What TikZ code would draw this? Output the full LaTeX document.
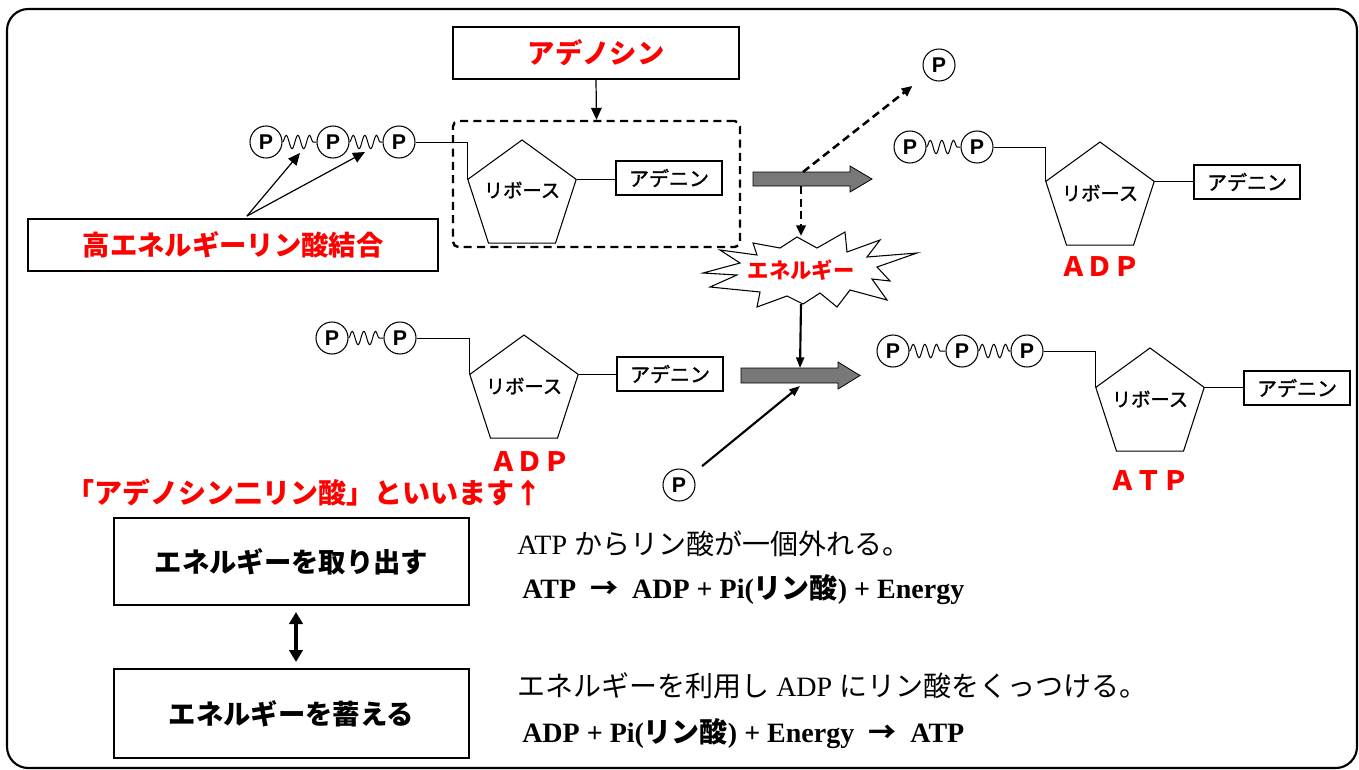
\documentclass[tikz,border=0pt]{standalone}
\usepackage{fontspec}
\setmainfont{Liberation Serif}
\newfontfamily\jp{Noto Sans CJK JP}
\newfontfamily\jpm{Noto Sans CJK JP}[FakeBold=1.5]
\newfontfamily\ar{Liberation Sans}
\usetikzlibrary{arrows.meta,shapes.geometric,decorations.pathmorphing,calc}
\definecolor{garrow}{RGB}{120,120,120}
\begin{document}
\begin{tikzpicture}[x=0.75pt,y=-0.75pt,
  pc/.style={draw, circle, line width=0.8pt, minimum size=24pt, inner sep=0pt, font=\ar\bfseries\fontsize{16}{16}\selectfont},
  rib/.style={draw, regular polygon, regular polygon sides=5, minimum size=85.5pt, inner sep=0pt, line width=0.8pt},
  ribtxt/.style={inner sep=0pt, font=\jpm\fontsize{14.5}{15}\selectfont},
  ade/.style={draw, line width=1pt, minimum width=79.5pt, minimum height=25.5pt, inner sep=0pt, font=\jpm\fontsize{15}{15}\selectfont},
  thinln/.style={line width=0.6pt},
  spring/.style={line width=0.75pt, decorate, decoration={snake, amplitude=5pt, segment length=8.75pt, pre length=0pt, post length=0pt}},
  bigbox/.style={draw, line width=1.5pt, inner sep=0pt, font=\jp\bfseries\fontsize{20.5}{21}\selectfont},
  redbox/.style={bigbox, text=red},
  redlab/.style={text=red, font=\jp\bfseries\fontsize{20}{20}\selectfont},
  thinarrow/.style={line width=0.9pt, -{Triangle[length=9pt,width=8pt]}},
  dasharrow/.style={line width=1.9pt, dash pattern=on 6pt off 3.5pt, -{Triangle[length=8pt,width=7pt]}},
  solidarrow/.style={line width=1.6pt, -{Triangle[length=8pt,width=6pt]}},
  blockarrow/.style={draw, line width=0.6pt, fill=garrow},
  eqn/.style={anchor=west, inner sep=0pt, font=\fontsize{21}{21}\selectfont},
  eqnb/.style={eqn, font=\bfseries\fontsize{21}{21}\selectfont},
]
\useasboundingbox (0,0) rectangle (1359,769);
% outer frame
\draw[line width=1.6pt, rounded corners=16pt] (7,9) rectangle (1357,768);

% adenosine label and dashed box
\node[redbox, minimum width=214.5pt, minimum height=39pt] (adeno) at (596,53) {アデノシン};
\node[draw, line width=1.8pt, dash pattern=on 6pt off 4pt, rounded corners=4pt, minimum width=215.25pt, minimum height=94.5pt, inner sep=0pt] (ados) at (596.5,184) {};
\draw[thinarrow] (adeno.south) -- (ados.north);

% top-left ATP
\node[pc] (a1) at (266,142) {P};
\node[pc] (a2) at (333,142) {P};
\node[pc] (a3) at (399,142) {P};
\draw[spring] (a1.east) -- (a2.west);
\draw[spring] (a2.east) -- (a3.west);
\node[rib] (r1) at (522,197) {};
\node[ribtxt] (r1t) at (522,190) {リボース};
\node[ade] (d1) at (669,178) {アデニン};
\draw[thinln] (a3.east) -| (r1.corner 2);
\draw[thinln] (r1.corner 5) -- (r1.corner 5 -| d1.west);

% high energy bond label
\node[redbox, minimum width=307.5pt, minimum height=39pt] (hebox) at (233,245) {高エネルギーリン酸結合};
\coordinate (hes) at (247,216);
\coordinate (sp1) at (300,153);
\coordinate (sp2) at (365,152);
\draw[thinarrow] (hes) -- (sp1);
\draw[thinarrow] (hes) -- (sp2);

% block arrow 1
\draw[blockarrow] (753,172) -- (850,172) -- (850,166) -- (872,179) -- (850,192) -- (850,186) -- (753,186) -- cycle;
\coordinate (g1top) at (803,172);
\coordinate (g1bot) at (801,186);

% free P
\node[pc] (pf) at (939,65) {P};
\draw[dasharrow, shorten >=13pt] (g1top) -- (pf);

% explosion
\draw[line width=0.8pt, fill=white] (797,237) -- (817,248) -- (845,232) -- (847,252) -- (880,240) -- (867,257) -- (917,253) -- (877,267) -- (890,281) -- (872,279) -- (887,300) -- (850,290) -- (837,307) -- (820,293) -- (803,304) -- (787,296) -- (757,307) -- (760,292) -- (710,287) -- (737,275) -- (703,273) -- (740,263) -- (720,250) -- (757,255) -- (753,243) -- (780,248) -- cycle;
\node[text=red, font=\jp\bfseries\fontsize{16}{16}\selectfont] (energy) at (801,270) {エネルギー};
\coordinate (extop) at (801,236);
\coordinate (exbot) at (801,304);
\draw[dasharrow] (g1bot) -- (extop);

% top-right ADP
\node[pc] (b1) at (910,147) {P};
\node[pc] (b2) at (977,147) {P};
\draw[spring] (b1.east) -- (b2.west);
\node[rib] (r3) at (1100,199) {};
\node[ribtxt] (r3t) at (1100,193) {リボース};
\node[ade] (d3) at (1247,182) {アデニン};
\draw[thinln] (b2.east) -| (r3.corner 2);
\draw[thinln] (r3.corner 5) -- (r3.corner 5 -| d3.west);
\node[redlab] (adp1) at (1100,267) {ＡＤＰ};

% bottom-left ADP
\node[pc] (c1) at (332,338) {P};
\node[pc] (c2) at (400,338) {P};
\draw[spring] (c1.east) -- (c2.west);
\node[rib] (r2) at (524,392) {};
\node[ribtxt] (r2t) at (524,386) {リボース};
\node[ade] (d2) at (670,374) {アデニン};
\draw[thinln] (c2.east) -| (r2.corner 2);
\draw[thinln] (r2.corner 5) -- (r2.corner 5 -| d2.west);
\node[redlab] (adp2) at (530,462) {ＡＤＰ};

% block arrow 2
\draw[blockarrow] (741,368) -- (838,368) -- (838,362) -- (860,375.5) -- (838,389) -- (838,383) -- (741,383) -- cycle;
\coordinate (g2top) at (800,368);
\coordinate (g2bot) at (800,386);
\draw[solidarrow] (exbot) -- (g2top);

% lower free P
\node[pc] (pl) at (679,485) {P};
\draw[solidarrow, shorten <=10pt] (pl) -- (g2bot);

% bottom-right ATP
\node[pc] (e1) at (893,351) {P};
\node[pc] (e2) at (962,351) {P};
\node[pc] (e3) at (1027,351) {P};
\draw[spring] (e1.east) -- (e2.west);
\draw[spring] (e2.east) -- (e3.west);
\node[rib] (r4) at (1150,405) {};
\node[ribtxt] (r4t) at (1150,399) {リボース};
\node[ade] (d4) at (1297,388) {アデニン};
\draw[thinln] (e3.east) -| (r4.corner 2);
\draw[thinln] (r4.corner 5) -- (r4.corner 5 -| d4.west);
\node[redlab] (atp) at (1149,481) {ＡＴＰ};

% bottom red text
\node[anchor=west, inner sep=0pt, text=red, font=\jp\bfseries\fontsize{21}{21}\selectfont] (adpname) at (66,493) {「アデノシン二リン酸」といいます↑};

% bottom boxes
\node[bigbox, minimum width=266.25pt, minimum height=65.25pt] (take) at (291.5,561.5) {エネルギーを取り出す};
\node[bigbox, minimum width=266.25pt, minimum height=66.75pt] (store) at (291.5,713.5) {エネルギーを蓄える};
\draw[line width=3pt, {Triangle[length=9pt,width=10pt]}-{Triangle[length=9pt,width=10pt]}] ($(take.south)+(4.5,6)$) -- ($(store.north)+(4.5,-6)$);

% equations
\node[eqn] (t1) at (517,544) {ATP {\jp からリン酸が一個外れる。}};
\node[eqnb] (t2) at (522,590) {ATP\ \ {\jp →}\ \ ADP + Pi({\jp\bfseries リン酸}) + Energy};
\node[eqn] (t3) at (517,686) {{\jp エネルギーを利用し} ADP {\jp にリン酸をくっつける。}};
\node[eqnb] (t4) at (522,734) {ADP + Pi({\jp\bfseries リン酸}) + Energy\ \ {\jp →}\ \ ATP};
\end{tikzpicture}
\end{document}
